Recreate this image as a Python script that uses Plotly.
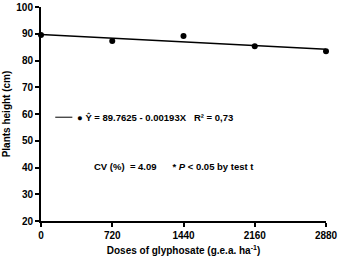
import plotly.graph_objects as go

doses = [0, 720, 1440, 2160, 2880]
height = [89.5, 87.3, 89.2, 85.3, 83.5]
intercept = 89.7625
slope = -0.00193
x_ticks = [0, 720, 1440, 2160, 2880]
y_ticks = [20, 30, 40, 50, 60, 70, 80, 90, 100]

FONT = "Liberation Sans, Arial, sans-serif"

fit_x = [doses[0], doses[-1]]
fit_y = [intercept + slope * v for v in fit_x]

fig = go.Figure()
fig.add_trace(go.Scatter(x=fit_x, y=fit_y, mode="lines",
                         line=dict(color="black", width=1.5),
                         showlegend=False, cliponaxis=False))
fig.add_trace(go.Scatter(x=doses, y=height, mode="markers",
                         marker=dict(color="black", size=6),
                         showlegend=False, cliponaxis=False))

fig.add_shape(type="line", xref="paper", yref="paper",
              x0=0.05, x1=0.11, y0=0.485, y1=0.485,
              line=dict(color="black", width=1))
fig.add_annotation(xref="paper", yref="paper", x=0.12, y=0.485,
                   xanchor="left", yanchor="middle", showarrow=False,
                   text="<b>● Ŷ = 89.7625 - 0.00193X   R² = 0,73</b>",
                   font=dict(family=FONT, size=9.5, color="black"))
fig.add_annotation(xref="paper", yref="paper", x=0.18, y=0.255,
                   xanchor="left", yanchor="middle", showarrow=False,
                   text="<b>CV (%)  = 4.09      * <i>P</i> < 0.05 by test t</b>",
                   font=dict(family=FONT, size=9.5, color="black"))

axis_common = dict(showline=True, linecolor="black", linewidth=2,
                   ticks="outside", ticklen=4, tickwidth=2, tickcolor="black",
                   showgrid=False, zeroline=False, automargin=False,
                   tickfont=dict(family=FONT, size=10, color="black"))

fig.update_layout(
    width=339, height=257,
    margin=dict(l=41, r=13, t=7, b=36),
    plot_bgcolor="white", paper_bgcolor="white",
    xaxis=dict(range=[0, 2880], tickvals=x_ticks,
               ticktext=[f"<b>{v}</b>" for v in x_ticks],
               title=dict(text="<b>Doses of glyphosate (g.e.a. ha<sup>-1</sup>)</b>",
                          font=dict(family=FONT, size=10, color="black"), standoff=7),
               **axis_common),
    yaxis=dict(range=[20, 100], tickvals=y_ticks,
               ticktext=[f"<b>{v}</b>" for v in y_ticks],
               title=dict(text="<b>Plants height (cm)</b>",
                          font=dict(family=FONT, size=10, color="black"), standoff=4),
               **axis_common),
)

fig.write_html("out.html")
